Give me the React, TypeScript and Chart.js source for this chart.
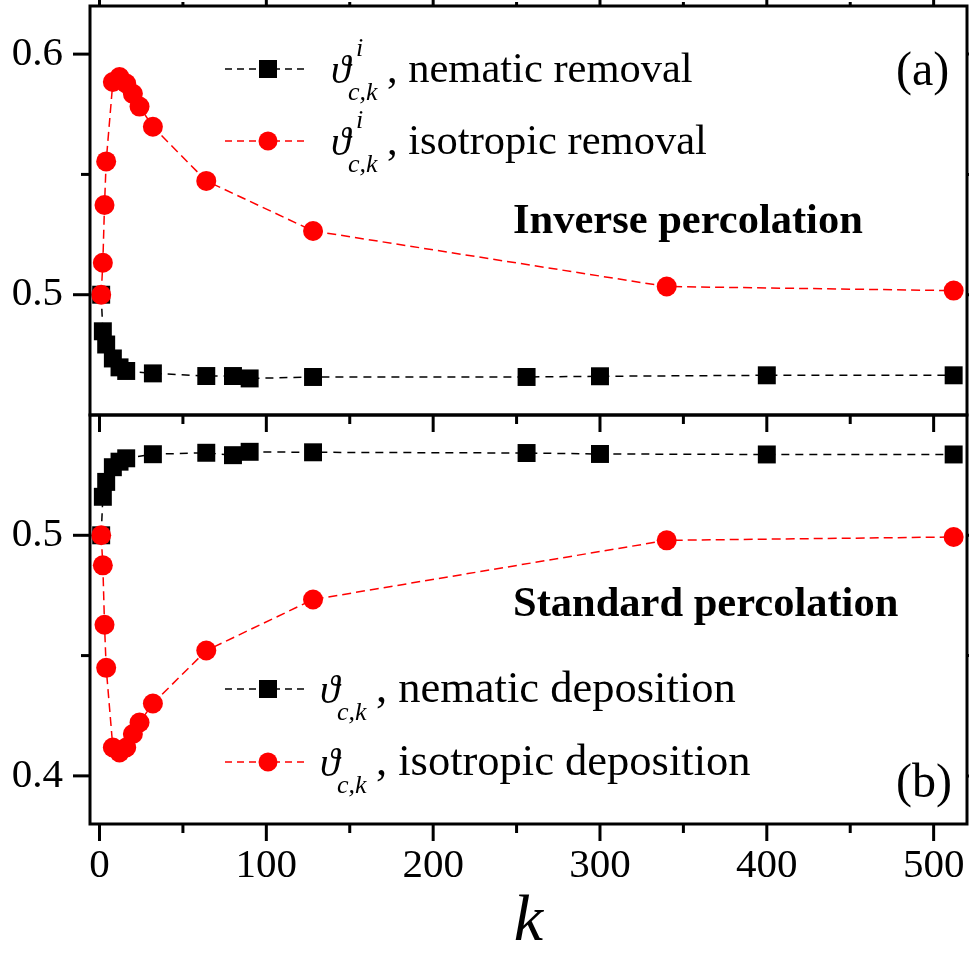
import React, { useEffect, useRef } from 'react';
import { Chart, registerables } from 'chart.js';

Chart.register(...registerables);

// ---------- data ----------
// (a) inverse percolation
const kRemovalNematic = [1, 2, 4, 8, 12, 16, 32, 64, 80, 90, 128, 256, 300, 400, 512];
const thetaRemovalNematic = [0.5, 0.4848, 0.4793, 0.4735, 0.4698, 0.4683, 0.4673, 0.4662, 0.4662, 0.4652, 0.4658, 0.4658, 0.4661, 0.4665, 0.4665];
const kRemovalIsotropic = [1, 2, 3, 4, 8, 12, 16, 20, 24, 32, 64, 128, 340, 512];
const thetaRemovalIsotropic = [0.5, 0.5133, 0.5373, 0.5554, 0.5884, 0.5905, 0.5878, 0.5835, 0.5782, 0.5698, 0.5473, 0.5265, 0.5034, 0.5017];

// (b) standard percolation
const kDepositionNematic = [1, 2, 4, 8, 12, 16, 32, 64, 80, 90, 128, 256, 300, 400, 512];
const thetaDepositionNematic = [0.5, 0.516, 0.5222, 0.5283, 0.5306, 0.532, 0.5337, 0.5343, 0.5333, 0.5347, 0.5345, 0.5342, 0.5338, 0.5336, 0.5336];
const kDepositionIsotropic = [1, 2, 3, 4, 8, 12, 16, 20, 24, 32, 64, 128, 340, 512];
const thetaDepositionIsotropic = [0.5, 0.4875, 0.4628, 0.4449, 0.4118, 0.4097, 0.4118, 0.4174, 0.4222, 0.4301, 0.4521, 0.4733, 0.4979, 0.4993];

// axes
const X_MIN = -5.7;
const X_MAX = 520;
const X_MAJOR = [0, 100, 200, 300, 400, 500];
const X_MINOR = [50, 150, 250, 350, 450];
const TOP_Y_MIN = 0.45;
const TOP_Y_MAX = 0.62;
const TOP_Y_MAJOR = [0.5, 0.6];
const TOP_Y_MINOR = [0.55];
const BOT_Y_MIN = 0.38;
const BOT_Y_MAX = 0.55;
const BOT_Y_MAJOR = [0.4, 0.5];
const BOT_Y_MINOR = [0.45];

// texts
const LEGEND_TOP = ['nematic removal', 'isotropic removal'];
const LEGEND_BOTTOM = ['nematic deposition', 'isotropic deposition'];
const TITLE_TOP = 'Inverse percolation';
const TITLE_BOTTOM = 'Standard percolation';

const SERIF = "'Liberation Serif', 'Times New Roman', serif";
const W = 969;
const H = 956;
const RED = '#ff0000';
const BLACK = '#000000';

const pts = (xs: number[], ys: number[]) => xs.map((x, i) => ({ x, y: ys[i] }));

function seg(ctx: CanvasRenderingContext2D, x1: number, y1: number, x2: number, y2: number) {
  ctx.beginPath();
  ctx.moveTo(x1, y1);
  ctx.lineTo(x2, y2);
  ctx.stroke();
}

function drawLegendRow(
  ctx: CanvasRenderingContext2D,
  y: number,
  color: string,
  marker: 'rect' | 'circle',
  sup: string,
  label: string,
  textSize: number
) {
  ctx.save();
  ctx.strokeStyle = color;
  ctx.lineWidth = 1.5;
  ctx.setLineDash([7, 5]);
  seg(ctx, 225, y, 306, y);
  ctx.setLineDash([]);
  ctx.fillStyle = color;
  if (marker === 'rect') {
    ctx.fillRect(268 - 9, y - 9, 18, 18);
  } else {
    ctx.beginPath();
    ctx.arc(268, y, 9.5, 0, Math.PI * 2);
    ctx.fill();
  }
  ctx.fillStyle = BLACK;
  ctx.textBaseline = 'alphabetic';
  ctx.textAlign = 'left';
  const x0 = sup ? 331 : 320;
  ctx.font = `italic 40px ${SERIF}`;
  ctx.fillText('\u03D1', x0, y + 14);
  ctx.font = `italic 26px ${SERIF}`;
  if (sup) ctx.fillText(sup, x0 + 25, y - 13);
  ctx.fillText('c,k', x0 + 17, y + 31);
  ctx.font = `${textSize}px ${SERIF}`;
  ctx.fillText(', ' + label, x0 + 56, y + 13);
  ctx.restore();
}

function makePanelPlugin(isTop: boolean) {
  return {
    id: 'panelDecor' + (isTop ? 'Top' : 'Bottom'),
    afterDraw(chart: any) {
      const ctx: CanvasRenderingContext2D = chart.ctx;
      const a = chart.chartArea;
      const xs = chart.scales.x;
      const ys = chart.scales.y;
      const yMajor = isTop ? TOP_Y_MAJOR : BOT_Y_MAJOR;
      const yMinor = isTop ? TOP_Y_MINOR : BOT_Y_MINOR;
      ctx.save();
      ctx.strokeStyle = BLACK;
      ctx.lineWidth = 3;
      ctx.lineCap = 'butt';
      ctx.strokeRect(a.left, a.top, a.right - a.left, a.bottom - a.top);
      // y ticks
      for (const v of yMajor) {
        const py = ys.getPixelForValue(v);
        seg(ctx, a.left - 17, py, a.left, py);
        seg(ctx, a.right, py, a.right + 6, py);
      }
      for (const v of yMinor) {
        const py = ys.getPixelForValue(v);
        seg(ctx, a.left - 9, py, a.left, py);
        seg(ctx, a.right, py, a.right + 4, py);
      }
      // x ticks
      for (const v of X_MAJOR) {
        const px = xs.getPixelForValue(v);
        seg(ctx, px, a.bottom, px, a.bottom + 17);
        if (isTop) seg(ctx, px, a.top, px, a.top - 6);
      }
      for (const v of X_MINOR) {
        const px = xs.getPixelForValue(v);
        seg(ctx, px, a.bottom, px, a.bottom + 9);
        if (isTop) seg(ctx, px, a.top, px, a.top - 4);
      }
      ctx.restore();

      // legend
      if (isTop) {
        drawLegendRow(ctx, 69, BLACK, 'rect', 'i', LEGEND_TOP[0], 42.5);
        drawLegendRow(ctx, 141, RED, 'circle', 'i', LEGEND_TOP[1], 42.5);
      } else {
        drawLegendRow(ctx, 689, BLACK, 'rect', '', LEGEND_BOTTOM[0], 44.5);
        drawLegendRow(ctx, 762, RED, 'circle', '', LEGEND_BOTTOM[1], 44.5);
      }

      // annotations
      ctx.save();
      ctx.fillStyle = BLACK;
      ctx.textBaseline = 'alphabetic';
      ctx.textAlign = 'left';
      ctx.font = `bold 42.5px ${SERIF}`;
      if (isTop) ctx.fillText(TITLE_TOP, 513, 233);
      else ctx.fillText(TITLE_BOTTOM, 513, 616);
      ctx.font = `48px ${SERIF}`;
      if (isTop) ctx.fillText('(a)', 896, 85);
      else ctx.fillText('(b)', 896, 797);
      ctx.restore();
    },
  };
}

function seriesSets(kNem: number[], vNem: number[], kIso: number[], vIso: number[]) {
  return [
    {
      data: pts(kIso, vIso),
      borderColor: RED,
      backgroundColor: RED,
      borderWidth: 1.5,
      borderDash: [9, 5],
      pointStyle: 'circle',
      pointRadius: 10,
      pointBackgroundColor: RED,
      pointBorderColor: RED,
      pointBorderWidth: 0,
      tension: 0,
      fill: false,
    },
    {
      data: pts(kNem, vNem),
      borderColor: BLACK,
      backgroundColor: BLACK,
      borderWidth: 1.5,
      borderDash: [8, 6],
      pointStyle: 'rect',
      pointRadius: 12.7,
      pointBackgroundColor: BLACK,
      pointBorderColor: BLACK,
      pointBorderWidth: 0,
      tension: 0,
      fill: false,
    },
  ];
}

function makeConfig(isTop: boolean): any {
  const datasets = isTop
    ? seriesSets(kRemovalNematic, thetaRemovalNematic, kRemovalIsotropic, thetaRemovalIsotropic)
    : seriesSets(kDepositionNematic, thetaDepositionNematic, kDepositionIsotropic, thetaDepositionIsotropic);
  const yMajor = isTop ? TOP_Y_MAJOR : BOT_Y_MAJOR;
  return {
    type: 'line',
    data: { datasets },
    options: {
      animation: false,
      responsive: false,
      events: [],
      layout: {
        autoPadding: false,
        padding: isTop ? { top: 6, bottom: 541, left: 0, right: 2 } : { top: 415, bottom: 0, left: 0, right: 2 },
      },
      plugins: { legend: { display: false }, tooltip: { enabled: false } },
      scales: {
        x: {
          type: 'linear',
          min: X_MIN,
          max: X_MAX,
          display: !isTop,
          position: 'bottom',
          afterBuildTicks: (s: any) => {
            s.ticks = X_MAJOR.map((v) => ({ value: v }));
          },
          afterFit: (s: any) => {
            s.height = isTop ? 0 : 132;
            s.paddingLeft = 0;
            s.paddingRight = 0;
          },
          grid: { display: false, drawTicks: false },
          border: { display: false },
          ticks: {
            font: { family: SERIF, size: 41, lineHeight: 1 },
            color: BLACK,
            padding: 22,
            maxRotation: 0,
            autoSkip: false,
            callback: (v: number) => String(v),
          },
          title: {
            display: !isTop,
            text: 'k',
            color: BLACK,
            font: { family: SERIF, size: 66, style: 'italic', lineHeight: 1 },
            padding: { top: 0, bottom: 0 },
          },
        },
        y: {
          type: 'linear',
          min: isTop ? TOP_Y_MIN : BOT_Y_MIN,
          max: isTop ? TOP_Y_MAX : BOT_Y_MAX,
          position: 'left',
          afterBuildTicks: (s: any) => {
            s.ticks = yMajor.map((v) => ({ value: v }));
          },
          afterFit: (s: any) => {
            s.width = 90;
            s.paddingTop = 0;
            s.paddingBottom = 0;
          },
          grid: { display: false, drawTicks: false },
          border: { display: false },
          ticks: {
            font: { family: SERIF, size: 41 },
            color: BLACK,
            padding: 27,
            callback: (v: number) => v.toFixed(1),
          },
        },
      },
    },
    plugins: [makePanelPlugin(isTop)],
  };
}

export default function App() {
  const topRef = useRef<HTMLCanvasElement>(null);
  const botRef = useRef<HTMLCanvasElement>(null);

  useEffect(() => {
    const c1 = new Chart(topRef.current as HTMLCanvasElement, makeConfig(true));
    const c2 = new Chart(botRef.current as HTMLCanvasElement, makeConfig(false));
    return () => {
      c1.destroy();
      c2.destroy();
    };
  }, []);

  const cs: React.CSSProperties = { position: 'absolute', left: 0, top: 0, width: W, height: H, display: 'block' };
  return (
    <div style={{ position: 'absolute', left: 0, top: 0, width: W, height: H, background: '#fff', overflow: 'hidden' }}>
      <canvas ref={botRef} width={W} height={H} style={cs} />
      <canvas ref={topRef} width={W} height={H} style={cs} />
    </div>
  );
}
